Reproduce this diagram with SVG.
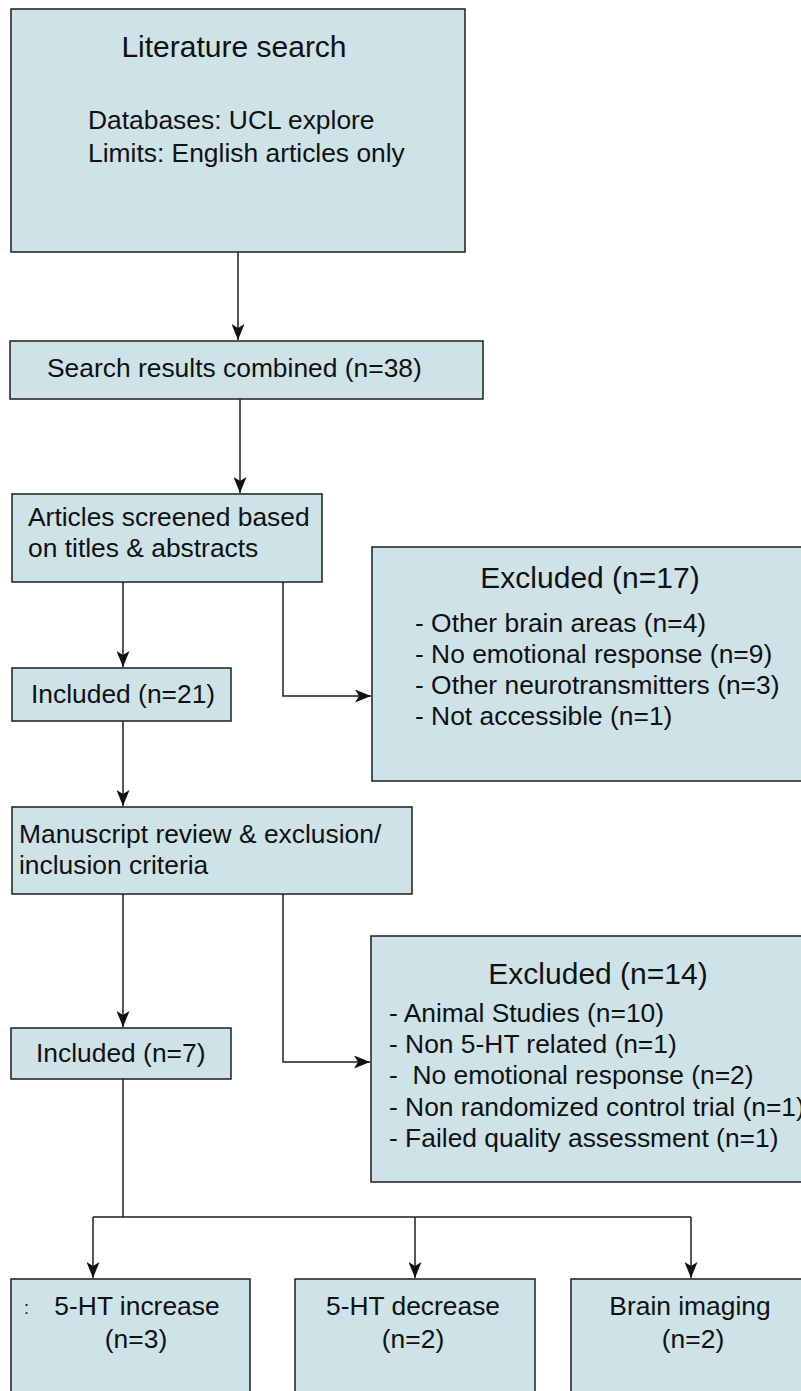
<svg xmlns="http://www.w3.org/2000/svg" width="801" height="1391" viewBox="0 0 801 1391">
<style>
.box{fill:#cde3e8;stroke:#1e1e1e;stroke-width:1.5}
.t{font-family:"Liberation Sans",Arial,Helvetica,sans-serif;font-size:26.4px;fill:#111}
.h{font-size:30px}
.c{text-anchor:middle}
.ln{fill:none;stroke:#1e1e1e;stroke-width:1.5}
</style>
<defs>
<marker id="ah" viewBox="0 0 16 13" refX="16" refY="6.5" markerWidth="16" markerHeight="13" orient="auto" markerUnits="userSpaceOnUse">
<path d="M0,0 L16,6.5 L0,13 L4,6.5 Z" fill="#111"/>
</marker>
</defs>
<rect width="801" height="1391" fill="#fff"/>
<g id="connectors">
<path class="ln" d="M238,252 V340" marker-end="url(#ah)"/>
<path class="ln" d="M240,399 V493" marker-end="url(#ah)"/>
<path class="ln" d="M123,582 V667" marker-end="url(#ah)"/>
<path class="ln" d="M283,582 V696 H371" marker-end="url(#ah)"/>
<path class="ln" d="M123,721 V806" marker-end="url(#ah)"/>
<path class="ln" d="M123,894 V1027" marker-end="url(#ah)"/>
<path class="ln" d="M283,894 V1062 H370" marker-end="url(#ah)"/>
<path class="ln" d="M123,1079 V1217 M93,1217 H691"/>
<path class="ln" d="M93,1217 V1278" marker-end="url(#ah)"/>
<path class="ln" d="M415,1217 V1278" marker-end="url(#ah)"/>
<path class="ln" d="M691,1217 V1278" marker-end="url(#ah)"/>
</g>
<g id="literature">
<rect class="box" x="11" y="9" width="454" height="243"/>
<text class="t h c" x="234" y="57">Literature search</text>
<text class="t" x="88" y="129">Databases: UCL explore</text>
<text class="t" x="88" y="162">Limits: English articles only</text>
</g>
<g id="search">
<rect class="box" x="10" y="341" width="473" height="58"/>
<text class="t" x="47" y="377">Search results combined (n=38)</text>
</g>
<g id="screened">
<rect class="box" x="12" y="494" width="310" height="88"/>
<text class="t" x="28" y="526">Articles screened based</text>
<text class="t" x="28" y="557">on titles &amp; abstracts</text>
</g>
<g id="included21">
<rect class="box" x="12" y="668" width="219" height="53"/>
<text class="t" x="31" y="703">Included (n=21)</text>
</g>
<g id="excluded17">
<rect class="box" x="372" y="547" width="440" height="234"/>
<text class="t h c" x="590" y="588">Excluded (n=17)</text>
<text class="t" x="415" y="632">- Other brain areas (n=4)</text>
<text class="t" x="415" y="663">- No emotional response (n=9)</text>
<text class="t" x="415" y="694">- Other neurotransmitters (n=3)</text>
<text class="t" x="415" y="725">- Not accessible (n=1)</text>
</g>
<g id="manuscript">
<rect class="box" x="12" y="807" width="400" height="87"/>
<text class="t" x="19" y="843">Manuscript review &amp; exclusion/</text>
<text class="t" x="19" y="874">inclusion criteria</text>
</g>
<g id="included7">
<rect class="box" x="11" y="1028" width="220" height="51"/>
<text class="t" x="36" y="1062">Included (n=7)</text>
</g>
<g id="excluded14">
<rect class="box" x="371" y="936" width="440" height="246"/>
<text class="t h c" x="598" y="984">Excluded (n=14)</text>
<text class="t" x="389" y="1022">- Animal Studies (n=10)</text>
<text class="t" x="389" y="1053">- Non 5-HT related (n=1)</text>
<text class="t" x="389" y="1084" xml:space="preserve">-  No emotional response (n=2)</text>
<text class="t" x="389" y="1116">- Non randomized control trial (n=1)</text>
<text class="t" x="389" y="1147">- Failed quality assessment (n=1)</text>
</g>
<g id="increase">
<rect class="box" x="11" y="1279" width="239" height="130"/>
<text class="t" x="24" y="1314" style="font-size:18px">:</text>
<text class="t c" x="137" y="1315">5-HT increase</text>
<text class="t c" x="136" y="1348">(n=3)</text>
</g>
<g id="decrease">
<rect class="box" x="295" y="1279" width="240" height="130"/>
<text class="t c" x="413" y="1315">5-HT decrease</text>
<text class="t c" x="413" y="1348">(n=2)</text>
</g>
<g id="imaging">
<rect class="box" x="571" y="1279" width="240" height="130"/>
<text class="t c" x="690" y="1315">Brain imaging</text>
<text class="t c" x="693" y="1348">(n=2)</text>
</g>
</svg>
